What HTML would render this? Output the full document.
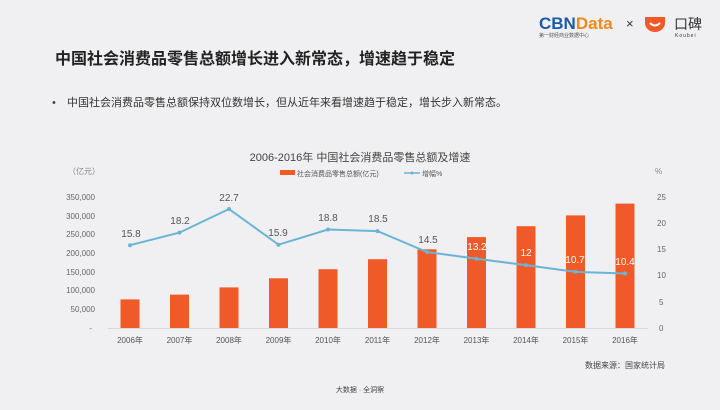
<!DOCTYPE html>
<html><head><meta charset="utf-8"><style>
body{margin:0;width:720px;height:405px;background:#f0eff1;overflow:hidden;font-family:"Liberation Sans","Noto Sans CJK SC",sans-serif}
</style></head><body>
<svg width="720" height="405" xmlns="http://www.w3.org/2000/svg" style="font-family:'Liberation Sans','Noto Sans CJK SC',sans-serif">
<rect width="720" height="405" fill="#f0eff1"/>
<!-- logos -->
<text x="539" y="29" font-size="17" font-weight="bold" fill="#1d5aa8">CBN<tspan fill="#f08a1e">Data</tspan></text>
<text x="539" y="37" font-size="5" fill="#555">第一财经商业数据中心</text>
<text x="626" y="28" font-size="13" fill="#333">×</text>
<path d="M645 17 h20 v6 a10 9 0 0 1 -20 0 z" fill="#f05a28"/>
<path d="M650 23 q5 5 10 0" stroke="#fff" stroke-width="2" fill="none"/>
<text x="674" y="29" font-size="14" fill="#333">口碑</text>
<text x="675" y="37" font-size="5" fill="#333" letter-spacing="1">Koubei</text>
<!-- titles -->
<text x="55" y="64" font-size="16" font-weight="bold" fill="#222">中国社会消费品零售总额增长进入新常态，增速趋于稳定</text>
<text x="52" y="106" font-size="11" fill="#444">•</text>
<text x="67" y="106" font-size="11" fill="#333">中国社会消费品零售总额保持双位数增长，但从近年来看增速趋于稳定，增长步入新常态。</text>
<text x="360" y="161" font-size="11" fill="#444" text-anchor="middle">2006-2016年 中国社会消费品零售总额及增速</text>
<rect x="280" y="170" width="15" height="5" fill="#f05a28"/>
<text x="297" y="176" font-size="7" fill="#555">社会消费品零售总额(亿元)</text>
<line x1="404" y1="173" x2="420" y2="173" stroke="#6ab4d6" stroke-width="1.5"/>
<circle cx="412" cy="173" r="1.5" fill="#6ab4d6"/>
<text x="422" y="176" font-size="7" fill="#555">增幅%</text>
<text x="68" y="174" font-size="8" fill="#888">（亿元）</text>
<text x="655" y="174" font-size="8" fill="#888">%</text>
<g font-size="8" fill="#666" text-anchor="end">
<text x="95" y="200">350,000</text><text x="95" y="219">300,000</text><text x="95" y="237">250,000</text><text x="95" y="256">200,000</text><text x="95" y="275">150,000</text><text x="95" y="293">100,000</text><text x="95" y="312">50,000</text><text x="92" y="331">-</text>
</g>
<g font-size="8" fill="#666">
<text x="657" y="200">25</text><text x="657" y="226">20</text><text x="657" y="252">15</text><text x="657" y="278">10</text><text x="659" y="305">5</text><text x="659" y="331">0</text>
</g>
<line x1="108" y1="328.5" x2="648" y2="328.5" stroke="#d8d8d8"/>
<g fill="#f05a28">
<rect x="120.5" y="299.4" width="19" height="28.6"/>
<rect x="170" y="294.6" width="19" height="33.4"/>
<rect x="219.5" y="287.4" width="19" height="40.6"/>
<rect x="269" y="278.3" width="19" height="49.7"/>
<rect x="318.5" y="269.2" width="19" height="58.8"/>
<rect x="368" y="259.2" width="19" height="68.8"/>
<rect x="417.5" y="249.3" width="19" height="78.7"/>
<rect x="467" y="237.1" width="19" height="90.9"/>
<rect x="516.5" y="226.2" width="19" height="101.8"/>
<rect x="566" y="215.4" width="19" height="112.6"/>
<rect x="615.5" y="203.6" width="19" height="124.4"/>
</g>
<polyline fill="none" stroke="#6ab4d6" stroke-width="2" points="130,245.2 179.5,232.6 229,209 278.5,244.7 328,229.5 377.5,231.1 427,252 476.5,258.8 526,265.1 575.5,271.9 625,273.5"/>
<g fill="#6ab4d6">
<circle cx="130" cy="245.2" r="2"/><circle cx="179.5" cy="232.6" r="2"/><circle cx="229" cy="209" r="2"/><circle cx="278.5" cy="244.7" r="2"/><circle cx="328" cy="229.5" r="2"/><circle cx="377.5" cy="231.1" r="2"/><circle cx="427" cy="252" r="2"/><circle cx="476.5" cy="258.8" r="2"/><circle cx="526" cy="265.1" r="2"/><circle cx="575.5" cy="271.9" r="2"/><circle cx="625" cy="273.5" r="2"/>
</g>
<g font-size="10" fill="#555" text-anchor="middle">
<text x="131" y="237">15.8</text><text x="180" y="224">18.2</text><text x="229" y="201">22.7</text><text x="278" y="236">15.9</text><text x="328" y="221">18.8</text><text x="378" y="222">18.5</text><text x="428" y="243">14.5</text>
</g>
<g font-size="10" fill="#fff" text-anchor="middle">
<text x="477" y="250">13.2</text><text x="526" y="256">12</text><text x="575" y="263">10.7</text><text x="625" y="265">10.4</text>
</g>
<g font-size="8" fill="#555" text-anchor="middle">
<text x="130" y="343">2006年</text><text x="179.5" y="343">2007年</text><text x="229" y="343">2008年</text><text x="278.5" y="343">2009年</text><text x="328" y="343">2010年</text><text x="377.5" y="343">2011年</text><text x="427" y="343">2012年</text><text x="476.5" y="343">2013年</text><text x="526" y="343">2014年</text><text x="575.5" y="343">2015年</text><text x="625" y="343">2016年</text>
</g>
<text x="665" y="368" font-size="8" fill="#444" text-anchor="end">数据来源：国家统计局</text>
<text x="360" y="392" font-size="7" fill="#444" text-anchor="middle">大数据 · 全洞察</text>
</svg>
</body></html>
